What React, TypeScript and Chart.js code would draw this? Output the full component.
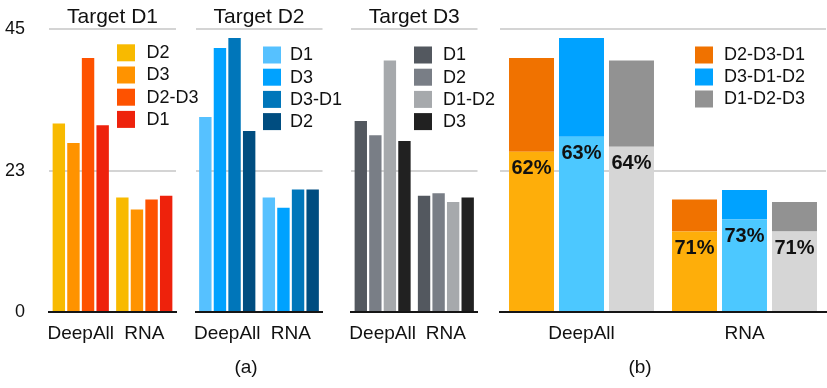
import React, { useEffect, useRef } from "react";
import { Chart, registerables } from "chart.js";

Chart.register(...registerables);

const FONT = '"Liberation Sans", Arial, Helvetica, sans-serif';
Chart.defaults.font.family = FONT;

// ---------- data ----------
const categories = ["DeepAll", "RNA"];
const yTicks = [0, 22.5, 45];
const yTickLabels = ["0", "23", "45"];

// Panel (a) Target D1
const t1Title = "Target D1";
const t1Labels = ["D2", "D3", "D2-D3", "D1"];
const t1D2 = [30.0, 18.2];
const t1D3 = [26.9, 16.3];
const t1D2D3 = [40.4, 17.9];
const t1D1 = [29.7, 18.5];

// Panel (a) Target D2
const t2Title = "Target D2";
const t2Labels = ["D1", "D3", "D3-D1", "D2"];
const t2D1 = [31.0, 18.2];
const t2D3 = [42.0, 16.6];
const t2D3D1 = [43.6, 19.5];
const t2D2 = [28.8, 19.5];

// Panel (a) Target D3
const t3Title = "Target D3";
const t3Labels = ["D1", "D2", "D1-D2", "D3"];
const t3D1 = [30.4, 18.5];
const t3D2 = [28.1, 18.9];
const t3D1D2 = [40.0, 17.5];
const t3D3 = [27.2, 18.2];

// Panel (b)
const bLabels = ["D2-D3-D1", "D3-D1-D2", "D1-D2-D3"];
const bLowerD2D3D1 = [25.5, 12.8];
const bUpperD2D3D1 = [14.9, 5.1];
const bLowerD3D1D2 = [27.9, 14.7];
const bUpperD3D1D2 = [15.7, 4.7];
const bLowerD1D2D3 = [26.3, 12.8];
const bUpperD1D2D3 = [13.7, 4.7];
const bPctD2D3D1 = ["62%", "71%"];
const bPctD3D1D2 = ["63%", "73%"];
const bPctD1D2D3 = ["64%", "71%"];

// ---------- styles ----------
const t1Colors = ["#F8BA00", "#FF9300", "#FE5200", "#EE220C"];
const t2Colors = ["#56C1FF", "#00A2FF", "#0076BA", "#004D80"];
const t3Colors = ["#53585F", "#797E86", "#A6A9AC", "#212121"];
const bUpperColors = ["#F07200", "#00A2FF", "#929292"];
const bLowerColors = ["#FEAE0A", "#4CC8FF", "#D6D6D6"];

const W = 827;
const H = 388;

const overlayPlugin = {
  id: "overlay",
  afterDatasetsDraw(chart: any, _args: any, opts: any) {
    const ctx = chart.ctx;
    const lg = opts && opts.legend;
    ctx.save();
    if (lg) {
      ctx.font = `18px ${FONT}`;
      ctx.textBaseline = "middle";
      ctx.textAlign = "left";
      let row = 0;
      chart.data.datasets.forEach((ds: any) => {
        if (ds.hideInLegend) return;
        const y = lg.y + row * lg.step;
        ctx.fillStyle = ds.backgroundColor;
        ctx.fillRect(lg.x, y, 18, 17);
        ctx.fillStyle = "#111";
        ctx.fillText(ds.label, lg.textX, y + 9);
        row++;
      });
    }
    ctx.font = `bold 20px ${FONT}`;
    ctx.textAlign = "center";
    ctx.textBaseline = "middle";
    ctx.fillStyle = "#111";
    chart.data.datasets.forEach((ds: any, i: number) => {
      if (!ds.pctLabels) return;
      const meta = chart.getDatasetMeta(i);
      meta.data.forEach((el: any, j: number) => {
        ctx.fillText(ds.pctLabels[j], el.x, el.y + 17);
      });
    });
    ctx.restore();
  },
};

function makeOptions(p: {
  left: number;
  right: number;
  title?: string;
  showY: boolean;
  stacked?: boolean;
  legend: { x: number; y: number; step: number; textX: number };
  catPct: number;
  barPct: number;
}) {
  return {
    responsive: false,
    animation: false,
    devicePixelRatio: 1,
    layout: {
      padding: {
        left: p.showY ? 0 : p.left,
        right: W - p.right,
        top: p.title ? 0 : 29.2,
        bottom: 36,
      },
    },
    datasets: {
      bar: { categoryPercentage: p.catPct, barPercentage: p.barPct },
    },
    plugins: {
      legend: { display: false },
      tooltip: { enabled: false },
      title: p.title
        ? {
            display: true,
            text: p.title,
            fullSize: false,
            color: "#111",
            font: { size: 21, weight: "normal", family: FONT, lineHeight: 1.1 },
            padding: { top: 6, bottom: 0 },
          }
        : { display: false },
      overlay: { legend: p.legend },
    },
    scales: {
      x: {
        stacked: !!p.stacked,
        grid: { display: true, color: "rgba(0,0,0,0)", drawTicks: false },
        border: { display: true, color: "#151515", width: 2 },
        ticks: {
          color: "#111",
          font: { size: 19, family: FONT },
          padding: 10,
          maxRotation: 0,
          autoSkip: false,
        },
        afterFit: (s: any) => {
          s.height = 40;
        },
      },
      y: {
        stacked: !!p.stacked,
        min: 0,
        max: 45,
        afterBuildTicks: (s: any) => {
          s.ticks = yTicks.map((v) => ({ value: v }));
        },
        afterFit: (s: any) => {
          s.width = p.showY ? p.left : 0;
          s.paddingTop = 10;
          s.paddingBottom = 10;
        },
        grid: {
          drawTicks: false,
          color: (c: any) => (c.tick && c.tick.value === 0 ? "rgba(0,0,0,0)" : "#d4d4d4"),
          lineWidth: 2,
        },
        border: { display: false },
        ticks: {
          display: p.showY,
          padding: 24,
          color: "#111",
          font: { size: 18, family: FONT },
          callback: (_v: any, i: number) => yTickLabels[i],
        },
      },
    },
  };
}

function groupDatasets(labels: string[], values: number[][], colors: string[]) {
  return labels.map((l, i) => ({
    label: l,
    data: values[i],
    backgroundColor: colors[i],
    borderWidth: 0,
  }));
}

function useChart(ref: React.RefObject<HTMLCanvasElement>, build: () => any) {
  useEffect(() => {
    if (!ref.current) return;
    const chart = new Chart(ref.current, build());
    return () => chart.destroy();
  }, []);
}

const canvasStyle: React.CSSProperties = {
  position: "absolute",
  left: 0,
  top: 0,
  width: W,
  height: H,
};

export default function App() {
  const r1 = useRef<HTMLCanvasElement>(null);
  const r2 = useRef<HTMLCanvasElement>(null);
  const r3 = useRef<HTMLCanvasElement>(null);
  const r4 = useRef<HTMLCanvasElement>(null);

  useChart(r1, () => ({
    type: "bar",
    data: {
      labels: categories,
      datasets: groupDatasets(t1Labels, [t1D2, t1D3, t1D2D3, t1D1], t1Colors),
    },
    options: makeOptions({
      left: 49,
      right: 176,
      title: t1Title,
      showY: true,
      legend: { x: 117, y: 44.3, step: 22.2, textX: 146.5 },
      catPct: 0.92,
      barPct: 0.85,
    }),
    plugins: [overlayPlugin],
  }));

  useChart(r2, () => ({
    type: "bar",
    data: {
      labels: categories,
      datasets: groupDatasets(t2Labels, [t2D1, t2D3, t2D3D1, t2D2], t2Colors),
    },
    options: makeOptions({
      left: 195.5,
      right: 322.5,
      title: t2Title,
      showY: false,
      legend: { x: 263, y: 46.5, step: 22.2, textX: 290 },
      catPct: 0.92,
      barPct: 0.85,
    }),
    plugins: [overlayPlugin],
  }));

  useChart(r3, () => ({
    type: "bar",
    data: {
      labels: categories,
      datasets: groupDatasets(t3Labels, [t3D1, t3D2, t3D1D2, t3D3], t3Colors),
    },
    options: makeOptions({
      left: 351,
      right: 477.5,
      title: t3Title,
      showY: false,
      legend: { x: 414, y: 46.5, step: 22.2, textX: 443 },
      catPct: 0.92,
      barPct: 0.85,
    }),
    plugins: [overlayPlugin],
  }));

  useChart(r4, () => {
    const lowers = [bLowerD2D3D1, bLowerD3D1D2, bLowerD1D2D3];
    const uppers = [bUpperD2D3D1, bUpperD3D1D2, bUpperD1D2D3];
    const pcts = [bPctD2D3D1, bPctD3D1D2, bPctD1D2D3];
    const datasets: any[] = [];
    bLabels.forEach((l, k) => {
      datasets.push({
        label: l + " (share)",
        data: lowers[k],
        backgroundColor: bLowerColors[k],
        borderWidth: 0,
        stack: "s" + k,
        hideInLegend: true,
        pctLabels: pcts[k],
      });
      datasets.push({
        label: l,
        data: uppers[k],
        backgroundColor: bUpperColors[k],
        borderWidth: 0,
        stack: "s" + k,
      });
    });
    return {
      type: "bar",
      data: { labels: categories, datasets },
      options: makeOptions({
        left: 500,
        right: 826,
        showY: false,
        stacked: true,
        legend: { x: 695, y: 46.5, step: 22, textX: 724 },
        catPct: 0.92,
        barPct: 0.9,
      }),
      plugins: [overlayPlugin],
    };
  });

  const captionStyle: React.CSSProperties = {
    position: "absolute",
    top: 355,
    width: 60,
    textAlign: "center",
    fontFamily: FONT,
    fontSize: 19,
    lineHeight: "24px",
    color: "#111",
  };

  return (
    <div
      style={{
        position: "absolute",
        left: 0,
        top: 0,
        width: W,
        height: H,
        overflow: "hidden",
        background: "#fff",
      }}
    >
      <canvas ref={r1} width={W} height={H} style={canvasStyle} />
      <canvas ref={r2} width={W} height={H} style={canvasStyle} />
      <canvas ref={r3} width={W} height={H} style={canvasStyle} />
      <canvas ref={r4} width={W} height={H} style={canvasStyle} />
      <div style={{ ...captionStyle, left: 246 - 30 }}>(a)</div>
      <div style={{ ...captionStyle, left: 640 - 30 }}>(b)</div>
    </div>
  );
}
